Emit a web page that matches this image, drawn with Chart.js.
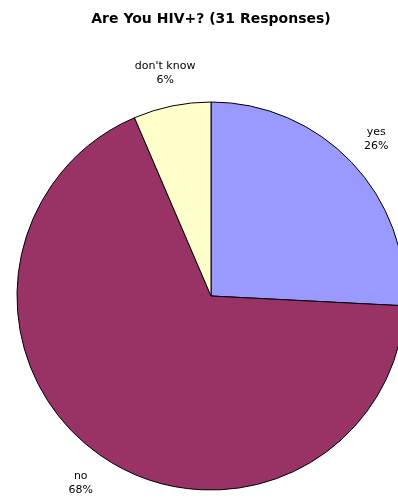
<!DOCTYPE html>
<html>
<head>
<meta charset="utf-8">
<script src="https://cdn.jsdelivr.net/npm/chart.js@4.4.0/dist/chart.umd.min.js"></script>
<style>
  html, body { margin: 0; padding: 0; background: #fff; overflow: hidden; }
  #wrap { width: 398px; height: 498px; overflow: hidden; }
  canvas { display: block; }
</style>
</head>
<body>
<div id="wrap">
  <canvas id="hiv-chart" width="420" height="498"></canvas>
</div>
<script>
// survey data (31 responses)
const answers = ['yes', 'no', "don't know"];
const responses = [8, 21, 2];
const chartTitle = 'Are You HIV+? (31 Responses)';

// draw "label / percent" outside each slice
const sliceLabels = {
    id: 'sliceLabels',
    afterDatasetsDraw(chart) {
        const ctx = chart.ctx;
        const meta = chart.getDatasetMeta(0);
        const total = responses.reduce((a, b) => a + b, 0);
        ctx.save();
        ctx.font = '11px "DejaVu Sans"';
        ctx.fillStyle = '#000';
        ctx.textAlign = 'center';
        ctx.textBaseline = 'middle';
        meta.data.forEach((arc, i) => {
            const { x, y, startAngle, endAngle, outerRadius } =
                arc.getProps(['x', 'y', 'startAngle', 'endAngle', 'outerRadius'], true);
            const mid = (startAngle + endAngle) / 2;
            const dist = outerRadius + 34;
            const lx = x + Math.cos(mid) * dist;
            const ly = y + Math.sin(mid) * dist;
            ctx.fillText(answers[i], lx, ly - 7);
            ctx.fillText(Math.round(responses[i] / total * 100) + '%', lx, ly + 7);
        });
        ctx.restore();
    }
};

const hivChart = document.getElementById('hiv-chart').getContext('2d');
// eslint-disable-next-line no-undef
new Chart(hivChart, {
    type: 'pie',
    data: {
        labels: answers,
        datasets: [{
            data: responses,
            backgroundColor: ['#9999FF', '#993366', '#FFFFCC'],
            borderColor: '#000000',
            borderWidth: 1
        }]
    },
    options: {
        responsive: false,
        animation: false,
        layout: {
            padding: { left: 16, right: 14, top: 0, bottom: 7.5 }
        },
        plugins: {
            legend: { display: false },
            tooltip: { enabled: false },
            title: {
                display: true,
                text: chartTitle,
                color: '#000',
                font: { family: 'DejaVu Sans', size: 14, weight: 'bold', lineHeight: 1.2 },
                padding: { top: 11, bottom: 73.7 }
            }
        }
    },
    plugins: [sliceLabels]
});
</script>
</body>
</html>
